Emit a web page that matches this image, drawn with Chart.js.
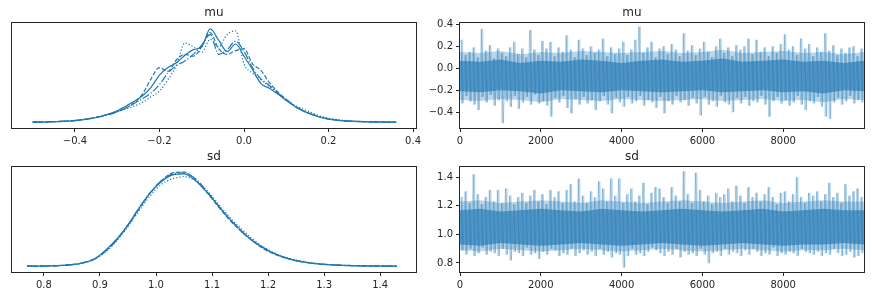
<!DOCTYPE html>
<html>
<head>
<meta charset="utf-8">
<script src="https://cdn.jsdelivr.net/npm/chart.js@4.4.1/dist/chart.umd.min.js"></script>
<style>
  html, body { margin: 0; padding: 0; background: #fff; }
  #wrap { position: relative; width: 872px; height: 296px; overflow: hidden; }
  canvas { position: absolute; }
</style>
</head>
<body>
<div id="wrap">
  <canvas id="muKde" width="436" height="148" style="left:0;top:0"></canvas>
  <canvas id="muTrace" width="472" height="148" style="left:400px;top:0"></canvas>
  <canvas id="sdKde" width="436" height="148" style="left:0;top:148px"></canvas>
  <canvas id="sdTrace" width="472" height="148" style="left:400px;top:148px"></canvas>
</div>
<script>
// ---- KDE of mu, one curve per chain (density, scaled so the tallest peak is ~1)
const muGrid = [-0.50, -0.48, -0.46, -0.44, -0.42, -0.40, -0.38, -0.36, -0.34, -0.32, -0.30,
  -0.28, -0.26, -0.24, -0.22, -0.20, -0.18, -0.16, -0.14, -0.12, -0.10, -0.08, -0.06, -0.04,
  -0.02, 0.00, 0.02, 0.04, 0.06, 0.08, 0.10, 0.12, 0.14, 0.16, 0.18, 0.20, 0.22, 0.24, 0.26,
  0.28, 0.30, 0.32, 0.34, 0.36];
const muChain0 = [0.000, 0.001, 0.003, 0.006, 0.010, 0.016, 0.026, 0.040, 0.060, 0.085, 0.12,
  0.17, 0.22, 0.28, 0.37, 0.50, 0.58, 0.63, 0.71, 0.77, 0.80, 0.99, 0.87, 0.75,
  0.83, 0.70, 0.56, 0.41, 0.36, 0.30, 0.23, 0.17, 0.12, 0.082, 0.052, 0.032, 0.020, 0.012, 0.008,
  0.005, 0.003, 0.002, 0.001, 0.000];
const muChain1 = [0.000, 0.002, 0.004, 0.007, 0.011, 0.017, 0.027, 0.042, 0.062, 0.085, 0.11,
  0.15, 0.20, 0.30, 0.46, 0.58, 0.54, 0.66, 0.72, 0.70, 0.80, 0.95, 0.78, 0.72,
  0.76, 0.78, 0.62, 0.55, 0.42, 0.32, 0.24, 0.17, 0.12, 0.085, 0.055, 0.035, 0.021, 0.013, 0.008,
  0.005, 0.003, 0.002, 0.001, 0.000];
const muChain2 = [0.002, 0.003, 0.005, 0.008, 0.012, 0.018, 0.028, 0.040, 0.058, 0.080, 0.11,
  0.15, 0.20, 0.25, 0.31, 0.40, 0.52, 0.60, 0.65, 0.72, 0.82, 0.93, 0.72, 0.77,
  0.86, 0.75, 0.58, 0.46, 0.39, 0.31, 0.24, 0.17, 0.12, 0.085, 0.055, 0.035, 0.022, 0.014, 0.009,
  0.006, 0.004, 0.002, 0.001, 0.000];
const muChain3 = [0.000, 0.001, 0.003, 0.006, 0.010, 0.017, 0.028, 0.043, 0.062, 0.085, 0.11,
  0.14, 0.17, 0.21, 0.27, 0.33, 0.45, 0.60, 0.84, 0.80, 0.74, 0.88, 0.80, 0.93,
  0.97, 0.62, 0.52, 0.45, 0.38, 0.31, 0.24, 0.18, 0.14, 0.10, 0.065, 0.042, 0.028, 0.018, 0.012,
  0.008, 0.005, 0.003, 0.002, 0.001];

// ---- KDE of sd
const sdGrid = [0.77, 0.79, 0.81, 0.83, 0.85, 0.87, 0.89, 0.91, 0.93, 0.95, 0.97, 0.99, 1.01,
  1.03, 1.05, 1.07, 1.09, 1.11, 1.13, 1.15, 1.17, 1.19, 1.21, 1.23, 1.25, 1.27, 1.29, 1.31,
  1.33, 1.35, 1.37, 1.39, 1.41, 1.43];
const sdChain0 = [0.000, 0.001, 0.003, 0.007, 0.016, 0.035, 0.075, 0.17, 0.29, 0.44, 0.62, 0.78, 0.90,
  0.97, 0.98, 0.91, 0.79, 0.65, 0.51, 0.39, 0.28, 0.20, 0.135, 0.09, 0.058, 0.038, 0.024, 0.015,
  0.009, 0.005, 0.003, 0.002, 0.001, 0.000];
const sdChain1 = [0.000, 0.001, 0.003, 0.008, 0.017, 0.037, 0.078, 0.16, 0.28, 0.43, 0.61, 0.78, 0.91,
  0.99, 1.00, 0.92, 0.79, 0.64, 0.50, 0.38, 0.28, 0.19, 0.13, 0.088, 0.057, 0.037, 0.023, 0.014,
  0.008, 0.005, 0.003, 0.001, 0.001, 0.000];
const sdChain2 = [0.000, 0.001, 0.002, 0.006, 0.015, 0.034, 0.074, 0.16, 0.28, 0.44, 0.62, 0.78, 0.91,
  0.98, 0.99, 0.93, 0.80, 0.65, 0.51, 0.38, 0.28, 0.20, 0.14, 0.092, 0.06, 0.039, 0.025, 0.016,
  0.010, 0.006, 0.003, 0.002, 0.001, 0.000];
const sdChain3 = [0.001, 0.002, 0.004, 0.008, 0.017, 0.036, 0.074, 0.15, 0.27, 0.42, 0.59, 0.75, 0.87,
  0.93, 0.95, 0.91, 0.81, 0.67, 0.53, 0.41, 0.30, 0.21, 0.145, 0.097, 0.064, 0.042, 0.027, 0.017,
  0.011, 0.007, 0.004, 0.003, 0.002, 0.001];

// ---- trace plots: per 100-draw bin, highest and lowest value reached by any chain
const binSize = 100;
const muHi = [0.26, 0.12, 0.15, 0.19, 0.10, 0.36, 0.16, 0.21, 0.09, 0.18,
  0.14, 0.11, 0.19, 0.24, 0.13, 0.18, 0.10, 0.35, 0.17, 0.12,
  0.25, 0.18, 0.24, 0.11, 0.19, 0.15, 0.30, 0.17, 0.10, 0.26,
  0.18, 0.12, 0.20, 0.14, 0.17, 0.27, 0.11, 0.19, 0.13, 0.18,
  0.24, 0.12, 0.17, 0.26, 0.38, 0.14, 0.19, 0.24, 0.10, 0.18,
  0.20, 0.13, 0.22, 0.17, 0.11, 0.32, 0.16, 0.21, 0.12, 0.18,
  0.24, 0.15, 0.10, 0.20, 0.27, 0.14, 0.19, 0.11, 0.21, 0.17,
  0.20, 0.27, 0.13, 0.26, 0.15, 0.19, 0.11, 0.20, 0.14, 0.22,
  0.31, 0.17, 0.20, 0.12, 0.27, 0.18, 0.22, 0.11, 0.19, 0.15,
  0.32, 0.16, 0.21, 0.12, 0.18, 0.14, 0.19, 0.20, 0.11, 0.18];
const muLo = [-0.32, -0.25, -0.30, -0.33, -0.38, -0.26, -0.31, -0.24, -0.34, -0.29,
  -0.50, -0.30, -0.35, -0.25, -0.37, -0.31, -0.26, -0.33, -0.24, -0.32,
  -0.30, -0.34, -0.44, -0.27, -0.31, -0.25, -0.36, -0.41, -0.28, -0.33,
  -0.26, -0.32, -0.29, -0.38, -0.30, -0.25, -0.33, -0.41, -0.27, -0.31,
  -0.35, -0.26, -0.32, -0.30, -0.25, -0.34, -0.29, -0.31, -0.36, -0.26,
  -0.41, -0.30, -0.33, -0.25, -0.31, -0.29, -0.34, -0.27, -0.32, -0.43,
  -0.26, -0.33, -0.30, -0.35, -0.25, -0.31, -0.33, -0.40, -0.27, -0.32,
  -0.26, -0.34, -0.30, -0.31, -0.25, -0.33, -0.44, -0.30, -0.26, -0.32,
  -0.29, -0.34, -0.31, -0.25, -0.33, -0.38, -0.30, -0.32, -0.26, -0.35,
  -0.44, -0.46, -0.31, -0.27, -0.33, -0.30, -0.25, -0.32, -0.29, -0.31];
const sdHi = [1.26, 1.30, 1.22, 1.42, 1.28, 1.21, 1.26, 1.31, 1.23, 1.31,
  1.22, 1.32, 1.27, 1.21, 1.26, 1.29, 1.22, 1.27, 1.31, 1.23,
  1.28, 1.21, 1.31, 1.26, 1.30, 1.22, 1.31, 1.35, 1.23, 1.39,
  1.27, 1.22, 1.30, 1.26, 1.37, 1.32, 1.23, 1.39, 1.27, 1.39,
  1.22, 1.28, 1.32, 1.23, 1.27, 1.36, 1.21, 1.29, 1.33, 1.32,
  1.26, 1.22, 1.33, 1.27, 1.23, 1.44, 1.28, 1.22, 1.43, 1.31,
  1.23, 1.27, 1.21, 1.29, 1.26, 1.28, 1.32, 1.23, 1.34, 1.27,
  1.22, 1.33, 1.26, 1.29, 1.23, 1.28, 1.33, 1.26, 1.21, 1.29,
  1.30, 1.23, 1.28, 1.40, 1.26, 1.22, 1.29, 1.27, 1.30, 1.23,
  1.28, 1.36, 1.26, 1.29, 1.22, 1.35, 1.27, 1.30, 1.32, 1.26];
const sdLo = [0.89, 0.86, 0.90, 0.85, 0.87, 0.91, 0.86, 0.88, 0.87, 0.85,
  0.90, 0.86, 0.82, 0.88, 0.87, 0.85, 0.91, 0.86, 0.87, 0.83,
  0.88, 0.86, 0.90, 0.89, 0.85, 0.87, 0.86, 0.90, 0.85, 0.87,
  0.89, 0.86, 0.88, 0.85, 0.90, 0.86, 0.88, 0.84, 0.87, 0.86,
  0.77, 0.85, 0.90, 0.86, 0.87, 0.85, 0.88, 0.91, 0.89, 0.87,
  0.85, 0.88, 0.86, 0.90, 0.84, 0.88, 0.86, 0.87, 0.85, 0.90,
  0.86, 0.80, 0.87, 0.88, 0.85, 0.90, 0.86, 0.88, 0.87, 0.85,
  0.89, 0.86, 0.90, 0.88, 0.85, 0.87, 0.86, 0.91, 0.85, 0.87,
  0.86, 0.88, 0.87, 0.85, 0.90, 0.88, 0.87, 0.86, 0.88, 0.85,
  0.87, 0.86, 0.90, 0.87, 0.85, 0.86, 0.88, 0.84, 0.85, 0.87];
// every 500 draws: typical extent of the band, and the dense core where all chains overlap
const bandStep = 500;
const muMidHi = [0.15, 0.14, 0.16, 0.13, 0.15, 0.14, 0.16, 0.15, 0.14, 0.15, 0.16,
  0.14, 0.15, 0.17, 0.14, 0.15, 0.16, 0.14, 0.15, 0.13, 0.15];
const muMidLo = [-0.29, -0.30, -0.28, -0.29, -0.31, -0.28, -0.29, -0.30, -0.28, -0.29, -0.30,
  -0.29, -0.28, -0.30, -0.29, -0.28, -0.30, -0.29, -0.31, -0.28, -0.29];
const muCoreHi = [0.07, 0.06, 0.08, 0.05, 0.07, 0.06, 0.08, 0.07, 0.05, 0.07, 0.08,
  0.06, 0.07, 0.09, 0.06, 0.07, 0.08, 0.06, 0.07, 0.05, 0.07];
const muCoreLo = [-0.21, -0.22, -0.20, -0.21, -0.23, -0.20, -0.21, -0.22, -0.20, -0.21, -0.22,
  -0.21, -0.20, -0.22, -0.21, -0.20, -0.22, -0.21, -0.23, -0.20, -0.21];
const sdMidHi = [1.23, 1.24, 1.22, 1.23, 1.24, 1.23, 1.22, 1.24, 1.23, 1.22, 1.23,
  1.24, 1.23, 1.22, 1.23, 1.24, 1.22, 1.23, 1.24, 1.23, 1.23];
const sdMidLo = [0.89, 0.88, 0.90, 0.89, 0.88, 0.89, 0.90, 0.89, 0.88, 0.89, 0.90,
  0.89, 0.88, 0.89, 0.90, 0.89, 0.88, 0.89, 0.89, 0.90, 0.89];
const sdCoreHi = [1.17, 1.18, 1.16, 1.17, 1.18, 1.17, 1.16, 1.18, 1.17, 1.16, 1.17,
  1.18, 1.17, 1.16, 1.17, 1.18, 1.16, 1.17, 1.18, 1.17, 1.17];
const sdCoreLo = [0.93, 0.92, 0.94, 0.93, 0.92, 0.93, 0.94, 0.93, 0.92, 0.93, 0.94,
  0.93, 0.92, 0.93, 0.94, 0.93, 0.92, 0.93, 0.93, 0.94, 0.93];

// ---- ticks
const muKdeTicks = [-0.4, -0.2, 0.0, 0.2, 0.4];
const muKdeLabels = ['\u22120.4', '\u22120.2', '0.0', '0.2', '0.4'];
const sdKdeTicks = [0.8, 0.9, 1.0, 1.1, 1.2, 1.3, 1.4];
const sdKdeLabels = ['0.8', '0.9', '1.0', '1.1', '1.2', '1.3', '1.4'];
const drawTicks = [0, 2000, 4000, 6000, 8000];
const drawLabels = ['0', '2000', '4000', '6000', '8000'];
const muTraceTicks = [-0.4, -0.2, 0.0, 0.2, 0.4];
const muTraceLabels = ['\u22120.4', '\u22120.2', '0.0', '0.2', '0.4'];
const sdTraceTicks = [0.8, 1.0, 1.2, 1.4];
const sdTraceLabels = ['0.8', '1.0', '1.2', '1.4'];

const BLUE = '#1f77b4';
const INK = '#262626';
const chainDash = [[], [4.4, 1.9], [7.7, 1.9, 1.2, 1.9], [1.2, 2]];

Chart.defaults.font.family = '"DejaVu Sans", sans-serif';
Chart.defaults.font.size = 10;
Chart.defaults.color = INK;
Chart.defaults.animation = false;

const frame = {
  id: 'frame',
  afterDraw(chart) {
    const { ctx, chartArea: a } = chart;
    ctx.save();
    ctx.strokeStyle = INK;
    ctx.lineWidth = 1;
    ctx.strokeRect(Math.round(a.left) - 0.5, Math.round(a.top) - 0.5,
      Math.round(a.right - a.left) + 1, Math.round(a.bottom - a.top) + 1);
    ctx.restore();
  },
};

function fixedTicks(values, labels) {
  return {
    offset: false,
    afterBuildTicks: (scale) => { scale.ticks = values.map((v) => ({ value: v })); },
    ticks: { autoSkip: false, maxRotation: 0, padding: 3, callback: (v, i) => labels[i] },
    grid: { display: true, offset: false, drawOnChartArea: false, drawTicks: true, tickLength: 4, color: INK },
    border: { display: false },
  };
}

function xAxis(min, max, values, labels, height) {
  return Object.assign({ type: 'linear', min, max, afterFit: (s) => { s.height = height; } },
    fixedTicks(values, labels));
}

function titleOpts(text, top) {
  return { display: true, text, color: INK, font: { size: 12, weight: 'normal' },
    padding: { top, bottom: 2.6 } };
}

function kdeChart(id, title, grid, chains, xMin, xMax, ticks, labels, titleTop, axisH) {
  const datasets = chains.map((ys, c) => ({
    data: grid.map((x, i) => ({ x, y: ys[i] })),
    borderColor: BLUE,
    borderWidth: 1.2,
    borderDash: chainDash[c],
    pointRadius: 0,
    cubicInterpolationMode: 'monotone',
    fill: false,
  }));
  return new Chart(document.getElementById(id), {
    type: 'line',
    data: { datasets },
    options: {
      responsive: false,
      layout: { padding: { left: 12, right: 20, top: 0, bottom: 0 } },
      plugins: { legend: { display: false }, tooltip: { enabled: false }, title: titleOpts(title, titleTop) },
      scales: {
        x: xAxis(xMin, xMax, ticks, labels, axisH),
        y: { display: false, min: -0.062, max: 1.053 },
      },
    },
    plugins: [frame],
  });
}

function traceChart(id, title, series, yMin, yMax, yTicks, yLabels, titleTop, axisH) {
  const { hi, lo, midHi, midLo, coreHi, coreLo } = series;
  const zig = [];
  hi.forEach((h, i) => {
    zig.push({ x: i * binSize + 25, y: h });
    zig.push({ x: i * binSize + 75, y: lo[i] });
  });
  const bars = hi.map((h, i) => ({ x: i * binSize + 50, y: [lo[i], h] }));
  const band = (arr) => arr.map((y, i) => ({ x: i * bandStep, y }));
  const edge = { type: 'line', borderWidth: 0, pointRadius: 0, tension: 0 };
  return new Chart(document.getElementById(id), {
    type: 'line',
    data: {
      datasets: [
        { type: 'line', data: zig, borderColor: 'rgba(31,119,180,0.28)', borderWidth: 1,
          pointRadius: 0, tension: 0, fill: false, order: 0 },
        { type: 'bar', data: bars, backgroundColor: 'rgba(31,119,180,0.32)', borderWidth: 0,
          barThickness: 1.6, order: 1 },
        Object.assign({ data: band(coreHi), fill: '+1', backgroundColor: 'rgba(31,119,180,0.62)', order: 2 }, edge),
        Object.assign({ data: band(coreLo), fill: false, order: 3 }, edge),
        Object.assign({ data: band(midHi), fill: '+1', backgroundColor: 'rgba(31,119,180,0.30)', order: 4 }, edge),
        Object.assign({ data: band(midLo), fill: false, order: 5 }, edge),
      ],
    },
    options: {
      responsive: false,
      layout: { padding: { left: 0, right: 8, top: 0, bottom: 0 } },
      plugins: { legend: { display: false }, tooltip: { enabled: false }, title: titleOpts(title, titleTop) },
      scales: {
        x: xAxis(0, 9999, drawTicks, drawLabels, axisH),
        y: Object.assign({ type: 'linear', min: yMin, max: yMax, afterFit: (s) => { s.width = 60; } },
          fixedTicks(yTicks, yLabels)),
      },
    },
    plugins: [frame],
  });
}

kdeChart('muKde', 'mu', muGrid, [muChain0, muChain1, muChain2, muChain3], -0.549, 0.407,
  muKdeTicks, muKdeLabels, 6, 20);
kdeChart('sdKde', 'sd', sdGrid, [sdChain0, sdChain1, sdChain2, sdChain3], 0.743, 1.464,
  sdKdeTicks, sdKdeLabels, 2, 24);
traceChart('muTrace', 'mu',
  { hi: muHi, lo: muLo, midHi: muMidHi, midLo: muMidLo, coreHi: muCoreHi, coreLo: muCoreLo },
  -0.5466, 0.4156, muTraceTicks, muTraceLabels, 6, 20);
traceChart('sdTrace', 'sd',
  { hi: sdHi, lo: sdLo, midHi: sdMidHi, midLo: sdMidLo, coreHi: sdCoreHi, coreLo: sdCoreLo },
  0.737, 1.472, sdTraceTicks, sdTraceLabels, 2, 24);
</script>
</body>
</html>
